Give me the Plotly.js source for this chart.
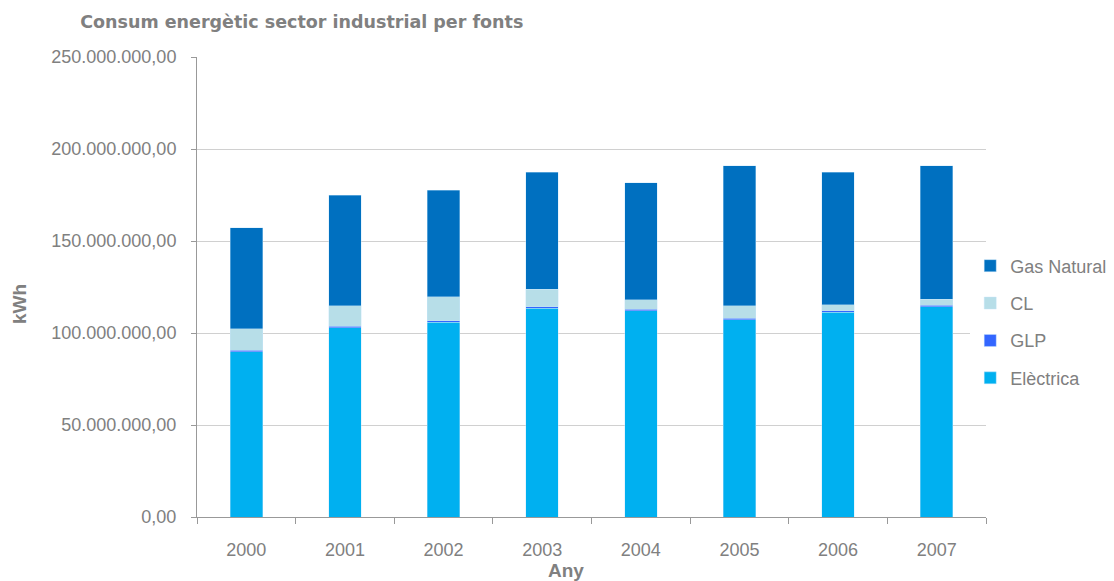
<!DOCTYPE html>
<html><head><meta charset="utf-8">
<script src="https://cdn.plot.ly/plotly-3.0.1.min.js"></script>
<style>body{margin:0;background:#fff}#c{width:1114px;height:581px}</style>
</head><body><div id="c"></div>
<script>
const years = ['2000','2001','2002','2003','2004','2005','2006','2007'];
const electrica = [89.7e6, 102.9e6, 105.8e6, 113.4e6, 112.0e6, 107.1e6, 111.4e6, 114.3e6];
const glp = [0.8e6, 0.8e6, 0.8e6, 0.8e6, 0.8e6, 0.8e6, 0.8e6, 0.8e6];
const cl = [11.7e6, 11.1e6, 13.1e6, 9.7e6, 5.3e6, 6.9e6, 3.2e6, 3.2e6];
const gasNatural = [55.0e6, 60.0e6, 57.8e6, 63.6e6, 63.6e6, 76.1e6, 72.1e6, 72.6e6];
const yTickVals = [0, 50e6, 100e6, 150e6, 200e6, 250e6];
const yTickText = ['0,00','50.000.000,00','100.000.000,00','150.000.000,00','200.000.000,00','250.000.000,00'];

const mk = (name, y, color, rank) => ({
  type: 'bar', name, x: years, y, legendgroup: name, legendrank: rank,
  marker: {color, line: {color: 'rgba(200,230,250,0.8)', width: 0.5}},
  width: 0.33
});
const data = [
  mk('Elèctrica', electrica, '#00B0F0', 4),
  mk('GLP', glp, '#3366FF', 3),
  mk('CL', cl, '#B7DEE8', 2),
  mk('Gas Natural', gasNatural, '#0070C0', 1)
];
const gray = '#808080';
const sans = '"Liberation Sans", Arial, sans-serif';
const layout = {
  width: 1114, height: 581,
  paper_bgcolor: '#fff', plot_bgcolor: '#fff',
  barmode: 'stack',
  margin: {l: 197, r: 128, t: 57, b: 64, autoexpand: false},
  font: {family: sans, color: gray, size: 18},
  title: {text: '<b>Consum energètic sector industrial per fonts</b>', x: 0.072, xanchor: 'left', y: 0.962, yanchor: 'middle',
          font: {family: '"DejaVu Sans", sans-serif', size: 17.5, color: gray}},
  xaxis: {
    type: 'category', showline: true, linecolor: '#999', linewidth: 1,
    ticks: 'outside', tickson: 'boundaries', ticklen: 6, tickcolor: '#999',
    tickfont: {family: sans, size: 18, color: gray}, ticklabelstandoff: 16
  },
  yaxis: {
    range: [0, 250e6], tickvals: yTickVals, ticktext: yTickText,
    showline: true, linecolor: '#999', linewidth: 1,
    ticks: 'outside', ticklen: 5, tickcolor: '#999',
    gridcolor: '#d0d0d0', gridwidth: 1, zeroline: false,
    tickfont: {family: sans, size: 18, color: gray}, ticklabelstandoff: 11
  },
  annotations: [
    {text: '<b>Any</b>', xref: 'paper', yref: 'paper', x: 0.468, y: -0.117, xanchor: 'center', yanchor: 'middle',
     showarrow: false, font: {family: sans, size: 19, color: gray}},
    {text: '<b>kWh</b>', xref: 'paper', yref: 'paper', x: -0.2256, y: 0.463, xanchor: 'center', yanchor: 'middle',
     textangle: -90, showarrow: false, font: {family: sans, size: 19, color: gray}}
  ],
  legend: {x: 0.98, xanchor: 'left', y: 0.424, yanchor: 'middle', traceorder: 'grouped',
           font: {family: sans, size: 18, color: gray}, itemwidth: 30, tracegroupgap: 11},
  showlegend: true
};
Plotly.newPlot('c', data, layout, {displayModeBar: false});
</script></body></html>
